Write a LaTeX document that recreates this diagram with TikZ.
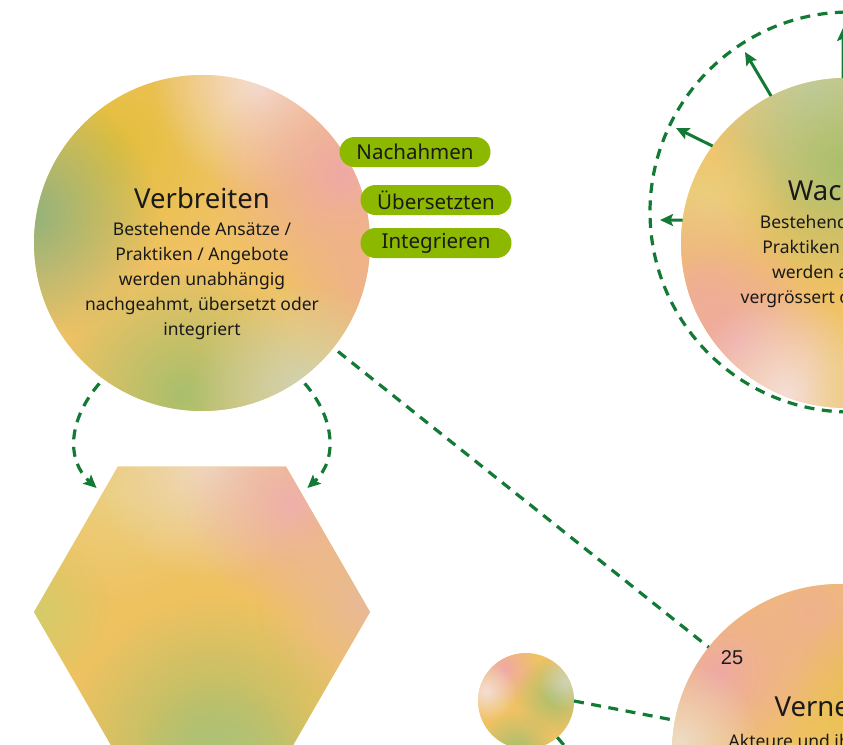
\documentclass[tikz,border=0pt]{standalone}
\usepackage{fontspec}
\setmainfont{Noto Sans}
\newfontfamily\numfont{Liberation Sans}
\usepackage{tikz}
\usetikzlibrary{shapes.geometric, arrows.meta, fadings}

\definecolor{flowgreen}{HTML}{137A35}
\definecolor{pillgreen}{HTML}{8CB800}
\definecolor{inkblack}{HTML}{1A1A1A}
% blob colours
\definecolor{warmbase}{HTML}{F0C264}
\definecolor{gold}{HTML}{E3BF3A}
\definecolor{leafgreen}{HTML}{8FB27C}
\definecolor{rosepink}{HTML}{EFA9A6}
\definecolor{palerose}{HTML}{F5DED6}
\definecolor{olive}{HTML}{A9BF6C}
\definecolor{sage}{HTML}{CFD3B6}
\definecolor{lime}{HTML}{C9CB60}
\definecolor{cream}{HTML}{EEDBC6}
\definecolor{softyellow}{HTML}{EBCF80}
\definecolor{peach}{HTML}{E9B89A}
\definecolor{apricot}{HTML}{EFB18E}

\tikzfading[name=softblob, inner color=transparent!0, outer color=transparent!100]

\newcommand{\blob}[4]{\fill[#1, path fading=softblob] (#2,#3) circle (#4);}

\tikzset{
  flow/.style={draw=flowgreen, line width=3.2pt, dash pattern=on 10pt off 7.5pt},
  flowtip/.style={-{Stealth[length=13pt, width=12pt, inset=2.5pt]}},
  ray/.style={draw=flowgreen, line width=3pt, -{Stealth[length=13pt, width=12pt, inset=2.5pt]}},
  pill/.style={fill=pillgreen, rounded corners=15pt, minimum width=151pt, minimum height=30pt,
    inner sep=0pt, font=\fontsize{20.5}{22}\selectfont, text=inkblack},
  title/.style={font=\fontsize{27.5}{30}\selectfont, text=inkblack, inner sep=0pt},
  body/.style={font=\fontsize{17.5}{25}\selectfont, align=center, text=inkblack, inner sep=0pt},
  bubble/.style={circle, inner sep=0pt, outer sep=0pt, minimum size=#1},
}

\begin{document}
\begin{tikzpicture}[x=1pt, y=-1pt]
	\useasboundingbox (0,0) rectangle (843,744);

	% ring around Wachsen
	\coordinate (wachring) at (850,212);
	\draw[flow] (wachring) circle (200);

	% Verbreiten
	\node[bubble=336pt, path picture={
		\begin{scope}[shift={(path picture bounding box.center)}]
		\fill[warmbase] (-200,-200) rectangle (200,200);
		\blob{gold}{-90}{-100}{130}
		\blob{leafgreen}{-175}{-30}{130}
		\blob{palerose}{60}{-160}{110}
		\blob{rosepink}{140}{-70}{130}
		\blob{apricot}{170}{40}{90}
		\blob{olive}{-20}{150}{130}
		\blob{sage}{100}{150}{110}
		\end{scope}}] (verb) at (202,243) {};
	\node[title] (verbtitle) at (202,198) {Verbreiten};
	\node[body] (verbtext) at (202,281) {Bestehende Ansätze /\\Praktiken / Angebote\\werden unabhängig\\nachgeahmt, übersetzt oder\\integriert};

	% pills
	\node[pill] (nach) at (415,152) {Nachahmen};
	\node[pill] (ueber) at (436,200) {Übersetzten};
	\node[pill] (integ) at (436,243) {Integrieren};

	% hexagon
	\node[regular polygon, regular polygon sides=6, minimum size=336pt, inner sep=0pt, outer sep=0pt,
		path picture={
		\begin{scope}[shift={(path picture bounding box.center)}]
		\fill[warmbase!90!gold] (-200,-200) rectangle (200,200);
		\blob{softyellow}{-90}{-120}{110}
		\blob{cream}{10}{-150}{120}
		\blob{rosepink!85!cream}{90}{-110}{110}
		\blob{peach}{165}{-10}{110}
		\blob{olive}{10}{135}{150}
		\blob{olive!80!sage}{20}{160}{90}
		\blob{lime!70!softyellow}{-170}{0}{80}
		\end{scope}}] (hex) at (202,612) {};

	% Wachsen
	\node[bubble=330pt, path picture={
		\begin{scope}[shift={(path picture bounding box.center)}]
		\fill[warmbase] (-200,-200) rectangle (200,200);
		\blob{sage!90!olive}{-30}{-150}{120}
		\blob{olive}{0}{-80}{130}
		\blob{softyellow}{-140}{-40}{80}
		\blob{apricot}{-150}{50}{100}
		\blob{rosepink}{-110}{100}{100}
		\blob{palerose}{-60}{150}{100}
		\blob{softyellow}{40}{150}{80}
		\end{scope}}] (wach) at (846,243) {};
	\node[title] (wachtitle) at (846,190) {Wachsen};
	\node[body] (wachtext) at (849,261) {Bestehende Ansätze /\\Praktiken / Angebote\\werden ausgebaut\\vergrössert oder erweitert};

	% small circle
	\node[bubble=96pt, path picture={
		\begin{scope}[shift={(path picture bounding box.center)}]
		\fill[warmbase] (-60,-60) rectangle (60,60);
		\blob{rosepink}{-22}{-32}{35}
		\blob{palerose}{-40}{-10}{30}
		\blob{olive}{28}{-5}{40}
		\blob{sage}{40}{-20}{28}
		\blob{olive!90!leafgreen}{-10}{50}{40}
		\end{scope}}] (small) at (526,701) {};

	% Vernetzen
	\node[bubble=336pt, path picture={
		\begin{scope}[shift={(path picture bounding box.center)}]
		\fill[warmbase] (-200,-200) rectangle (200,200);
		\blob{rosepink}{-120}{-80}{100}
		\blob{apricot}{-30}{-140}{110}
		\blob{gold!70!warmbase}{60}{-50}{110}
		\blob{cream}{-160}{-10}{80}
		\end{scope}}] (vern) at (840,752) {};
	\node[title] (verntitle) at (840,707) {Vernetzen};
	\node[body] (verntext) at (840,743) {Akteure und ihre Angebote};

	\node[font=\numfont\fontsize{20}{22}\selectfont, text=inkblack, inner sep=0pt] (pnum) at (732,658) {25};

	% connectors
	\draw[flow, flowtip, shorten <=6pt, shorten >=8pt] (verb.234) .. controls (68,420) and (66,460) .. (hex.130);
	\draw[flow, flowtip, shorten <=6pt, shorten >=8pt] (verb.306) .. controls (335,418) and (338,460) .. (hex.50);
	\draw[flow, shorten <=6pt] (verb) -- (vern);
	\draw[flow] (small.east) -- (vern);
	\coordinate (down1) at (600,787);
	\draw[flow] (small) -- (down1);

	% growth arrows
	\coordinate (g1) at (660,220);
	\coordinate (g2) at (676,128);
	\coordinate (g3) at (745,52);
	\coordinate (g4) at (843,28);
	\draw[ray] (wach.172) -- (g1);
	\draw[ray] (wach.144) -- (g2);
	\draw[ray] (wach.117) -- (g3);
	\draw[ray] (wach.91) -- (g4);
\end{tikzpicture}
\end{document}
